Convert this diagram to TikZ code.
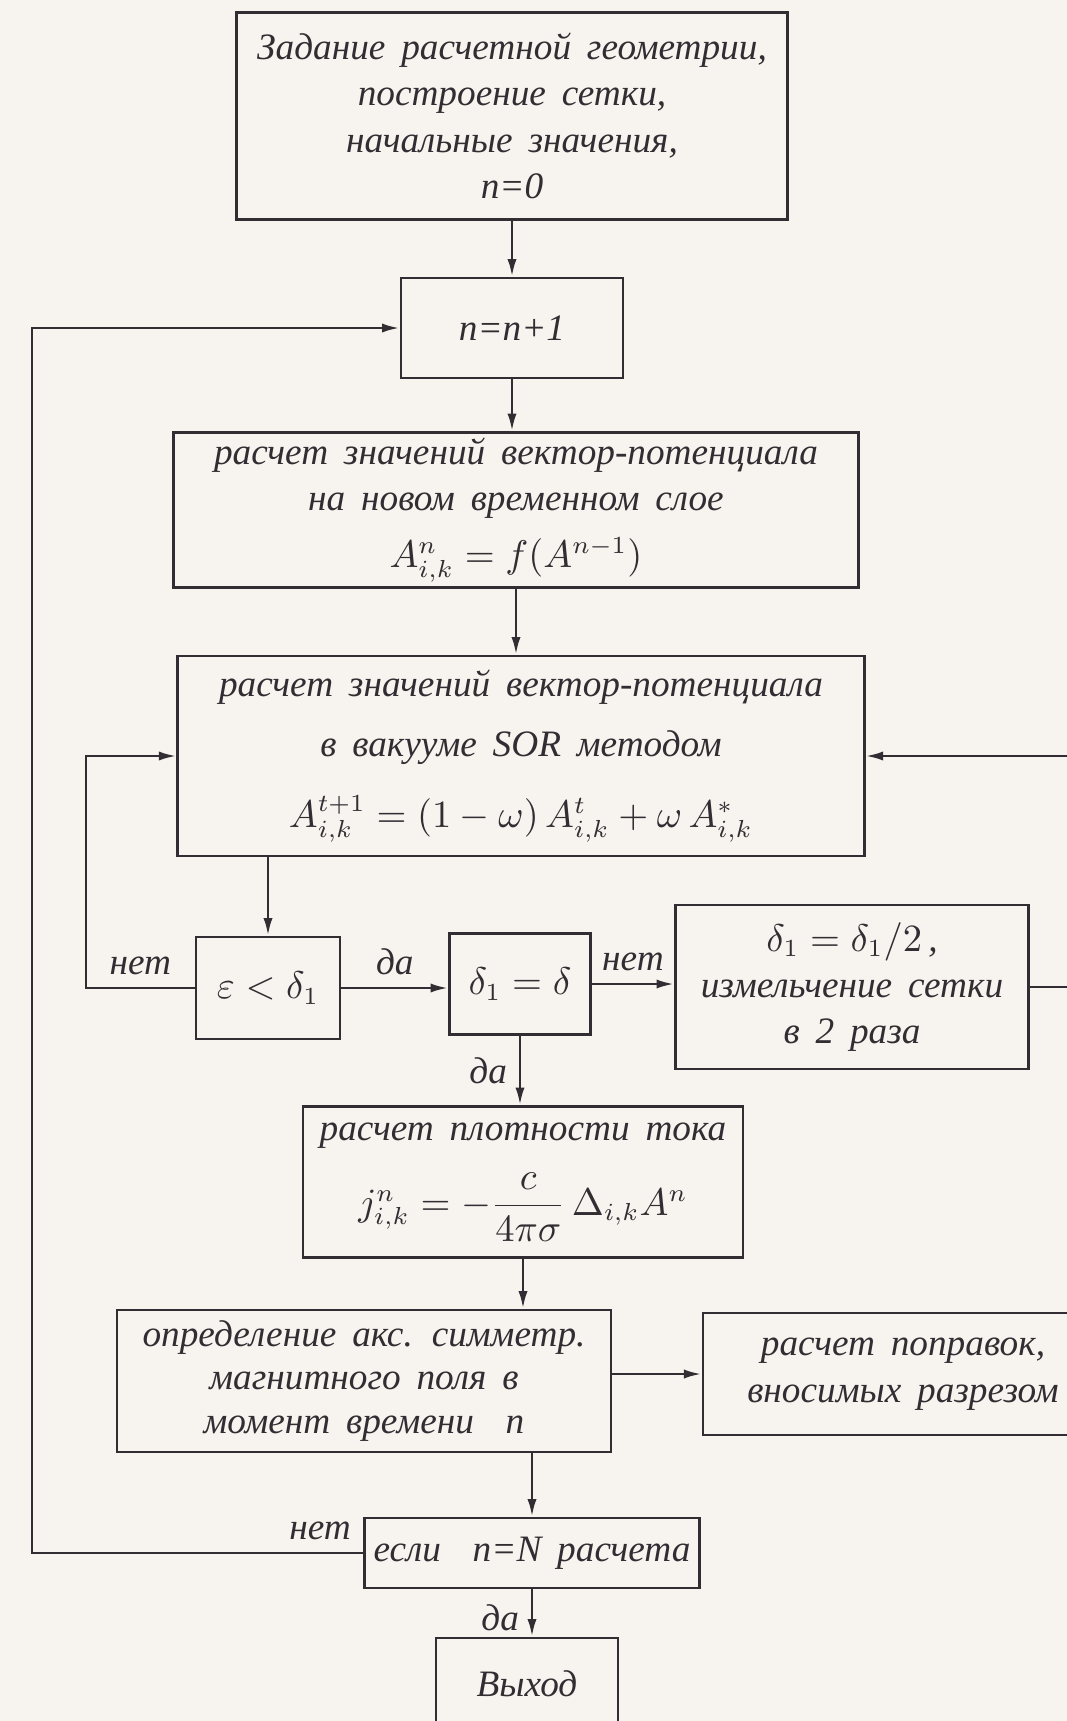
\documentclass[tikz,border=0pt]{standalone}
\usepackage{amsmath}
\usepackage{fontspec}
\setmainfont{Liberation Serif}[WordSpace=1.7]
\usetikzlibrary{arrows.meta}
\definecolor{paper}{RGB}{247,243,238}
\definecolor{ink}{RGB}{50,45,50}

\begin{document}
\begin{tikzpicture}[x=0.01cm, y=-0.01cm,
  every node/.style={font=\fontsize{10.6}{13.2}\selectfont\itshape, text=ink},
  blk/.style={draw=ink, line width=0.75pt, inner sep=0pt, align=center},
  arr/.style={draw=ink, line width=0.75pt, -{Latex[length=5pt,width=2.6pt]}}]
  \useasboundingbox (0,0) rectangle (1067,1721);
  \fill[paper] (0,0) rectangle (1067,1721);
  \clip (0,0) rectangle (1067,1721);
  % main column
  \node[blk, minimum width=5.51cm, minimum height=2.07cm] (init) at (512,116) {Задание расчетной геометрии,\\ построение сетки,\\ начальные значения,\\ n=0};
  \node[blk, minimum width=2.22cm, minimum height=1.00cm] (incr) at (512,328) {n=n+1};
  \node[blk, minimum width=6.85cm, minimum height=1.55cm] (layer) at (516,510) {расчет значений вектор-потенциала\\ на новом временном слое\\[3pt] $A^{n}_{i,k}=f(A^{n-1})$};
  \node[blk, minimum width=6.86cm, minimum height=2.00cm] (sor) at (521,756) {расчет значений вектор-потенциала\\[4pt] в вакууме SOR методом\\[7pt] $A^{t+1}_{i,k}=(1-\omega)\,A^{t}_{i,k}+\omega\,A^{*}_{i,k}$};
  % convergence row
  \node[blk, minimum width=1.44cm, minimum height=1.02cm] (eps) at (268,988) {$\varepsilon<\delta_1$};
  \node[blk, minimum width=1.41cm, minimum height=1.01cm] (dset) at (520,984) {$\delta_1=\delta$};
  \node[blk, minimum width=3.53cm, minimum height=1.64cm] (refine) at (852,987) {$\delta_1=\delta_1/2$\,,\\ измельчение сетки\\ в 2 раза};
  \node[blk, minimum width=4.40cm, minimum height=1.51cm] (curr) at (523,1182) {расчет плотности тока\\[6pt] $j^{n}_{i,k}=-\dfrac{c}{4\pi\sigma}\,\Delta_{i,k}A^{n}$};
  \node[blk, minimum width=4.94cm, minimum height=1.42cm, font=\fontsize{10.6}{12.4}\selectfont\itshape] (field) at (364,1381) {определение акс. симметр.\\ магнитного поля в\\ момент времени~~n};
  \node[blk, minimum width=4.00cm, minimum height=1.22cm] (corr) at (903,1374) {расчет поправок,\\ вносимых разрезом};
  \node[blk, minimum width=3.35cm, minimum height=0.70cm] (check) at (532,1553) {если~~n=N расчета};
  \node[blk, minimum width=1.82cm, minimum height=0.92cm] (exit) at (527,1684) {Выход};
  % loop columns
  \coordinate (lft) at (32,0);
  \coordinate (lft2) at (86,0);
  \coordinate (rgt) at (1100,0);
  % connectors
  \draw[arr] (init) -- (incr);
  \draw[arr] (incr.south) -- (incr.south |- layer.north);
  \draw[arr] (layer.south) -- (layer.south |- sor.north);
  \draw[arr] (sor.south -| eps) -- (eps.north);
  \draw[arr] (eps.east) -- node[above]{да} (eps.east -| dset.west);
  \draw[arr] (dset.east) -- node[above]{нет} (dset.east -| refine.west);
  \draw[arr] (refine.east) -- (refine.east -| rgt) |- (sor.east);
  \draw[arr] (eps.west) -- node[above]{нет} (eps.west -| lft2) |- (sor.west);
  \draw[arr] (dset.south) -- node[left]{да} (dset.south |- curr.north);
  \draw[arr] (curr.south) -- (curr.south |- field.north);
  \draw[arr] (field.east |- corr.west) -- (corr.west);
  \draw[arr] (check.north |- field.south) -- (check.north);
  \draw[arr] (check.south) -- node[left, pos=0.6]{да} (check.south |- exit.north);
  \draw[arr] (check.west) -- node[above, pos=0.13]{нет} (check.west -| lft) |- (incr.west);
\end{tikzpicture}
\end{document}
